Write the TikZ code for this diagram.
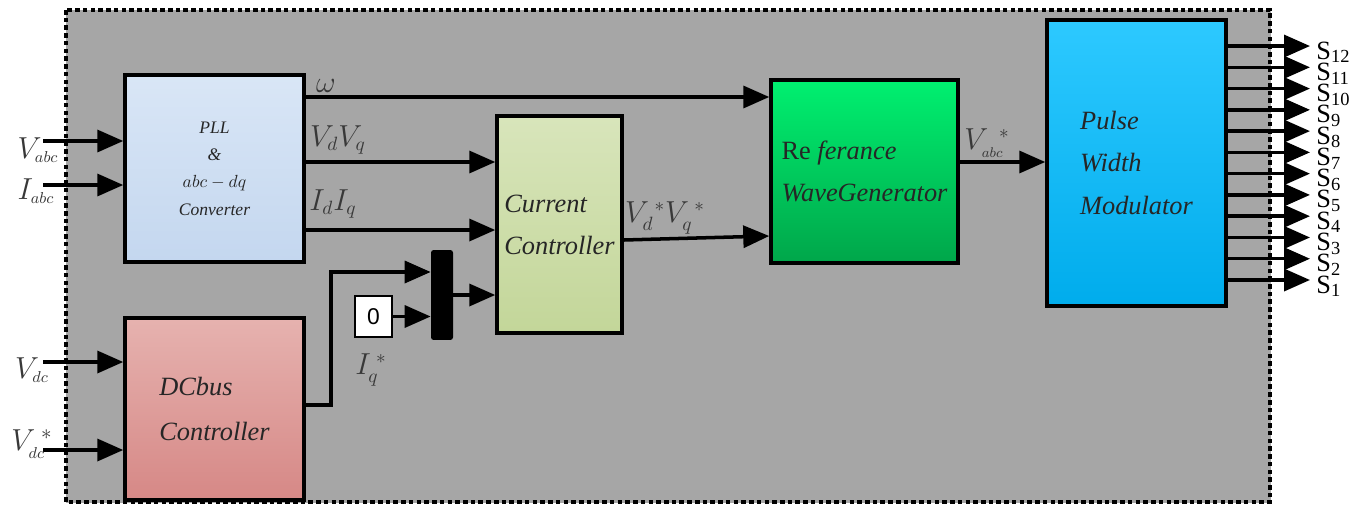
\documentclass[tikz,border=0pt]{standalone}
\usepackage{fontspec}
\setmainfont{Liberation Serif}
\setsansfont{Liberation Sans}
\usetikzlibrary{arrows.meta}

\definecolor{panel}{HTML}{A6A6A6}
\definecolor{pllTop}{HTML}{D9E6F6}
\definecolor{pllBot}{HTML}{C4D7EF}
\definecolor{dcTop}{HTML}{E6B2AF}
\definecolor{dcBot}{HTML}{D68886}
\definecolor{ccTop}{HTML}{D8E5BB}
\definecolor{ccBot}{HTML}{C3D699}
\definecolor{refTop}{HTML}{00F070}
\definecolor{refBot}{HTML}{00A64A}
\definecolor{pwmTop}{HTML}{2DC9FF}
\definecolor{pwmBot}{HTML}{00ACEC}
\definecolor{labtext}{HTML}{383838}

\tikzset{
  block/.style={draw, line width=2pt, inner sep=0pt, align=left, text=black!85,
    font=\fontsize{15}{24}\selectfont\itshape},
  sig/.style={line width=2pt, -{Triangle[length=0.52cm,width=0.44cm]}},
  lab/.style={text=labtext, inner sep=0pt, font=\fontsize{16}{16}\selectfont},
}

\begin{document}
\begin{tikzpicture}[x=0.02cm,y=-0.02cm]
   \useasboundingbox (0,0) rectangle (1364,504);
   % control panel
   \draw[panel, fill=panel] (66,10) rectangle (1270,502);
   \draw[line width=2pt, dash pattern=on 2.6pt off 1.8pt] (66,10) rectangle (1270,502);

   % blocks
   \node[block, align=center, top color=pllTop, bottom color=pllBot,
     minimum width=3.58cm, minimum height=3.74cm,
     font=\fontsize{10}{15.5}\selectfont\itshape] (pll) at (214.5,168.5)
     {PLL\\\&\\$abc-dq$\\Converter};
   \node[block, top color=dcTop, bottom color=dcBot,
     minimum width=3.58cm, minimum height=3.64cm,
     font=\fontsize{15}{26}\selectfont\itshape] (dc) at (214.5,409) {DCbus\\Controller};
   \node[block, top color=ccTop, bottom color=ccBot,
     minimum width=2.5cm, minimum height=4.34cm] (cc) at (559.5,224.5) {Current\\Controller};
   \node[block, top color=refTop, bottom color=refBot,
     minimum width=3.74cm, minimum height=3.66cm] (ref) at (864.5,171.5)
     {{\upshape Re} ferance\\WaveGenerator};
   \node[block, top color=pwmTop, bottom color=pwmBot,
     minimum width=3.58cm, minimum height=5.72cm] (pwm) at (1136.5,163)
     {Pulse\\Width\\Modulator};
   \node[fill=black, rounded corners=1.5pt, minimum width=0.44cm, minimum height=1.8cm,
     inner sep=0pt] (mux) at (442,295) {};
   \node[draw, fill=white, line width=1.4pt, minimum width=0.74cm, minimum height=0.82cm,
     inner sep=0pt, font=\sffamily\fontsize{13}{13}\selectfont] (zero) at (373.5,316.5) {0};

   % inputs
   \coordinate (vabc) at (43,141);
   \coordinate (iabc) at (43,185);
   \coordinate (vdc) at (43,362);
   \coordinate (vdcref) at (43,450);
   \draw[sig] (vabc) -- (pll.west |- vabc);
   \draw[sig] (iabc) -- (pll.west |- iabc);
   \draw[sig] (vdc) -- (dc.west |- vdc);
   \draw[sig] (vdcref) -- (dc.west |- vdcref);
   \node[lab, font=\fontsize{18}{18}\selectfont] (vabc-lab) at (38,150) {$V_{\scriptscriptstyle abc}$};
   \node[lab, font=\fontsize{18}{18}\selectfont] (iabc-lab) at (36,191) {$I_{\scriptscriptstyle abc}$};
   \node[lab, font=\fontsize{18}{18}\selectfont] (vdc-lab) at (32,370) {$V_{\scriptscriptstyle dc}$};
   \node[lab, font=\fontsize{18}{18}\selectfont] (vdcref-lab) at (32,444) {$V_{\scriptscriptstyle dc}^{\;*}$};

   % signals between blocks
   \draw[sig] (pll.east |- 0,97) -- (ref.west |- 0,97);
   \draw[sig] (pll.east |- 0,162) -- (cc.west |- 0,162);
   \draw[sig] (pll.east |- 0,230) -- (cc.west |- 0,230);
   \coordinate (iq-bend) at (331,272);
   \draw[sig] (dc.east |- 0,405) -| (iq-bend) -- (mux.west |- iq-bend);
   \draw[sig] (zero) -- (mux.west |- zero);
   \draw[sig] (mux) -- (cc.west |- mux);
   \draw[sig] (cc.east |- 0,240) -- (ref.west |- 0,236);
   \draw[sig] (ref.east |- 0,162) -- (pwm.west |- 0,162);

   \node[lab] (w-lab) at (326,86) {$\omega$};
   \node[lab] (vdq-lab) at (338,140) {$V_dV_q$};
   \node[lab] (idq-lab) at (333,204) {$I_dI_q$};
   \node[lab] (iq-lab) at (371,370) {$I_q^{\;*}$};
   \node[lab] (vdqref-lab) at (665,218) {$V_d^{\;*}V_q^{\;*}$};
   \node[lab] (vabcref-lab) at (987,143) {$V_{\scriptscriptstyle abc}^{\;\;*}$};

   % switching pulses
   \foreach \i [evaluate=\i as \y using 280-(\i-1)*21.27] in {1,...,12} {
     \coordinate (s\i) at (1310,\y);
     \draw[sig] (pwm.east |- s\i) -- (s\i);
     \node[anchor=base west, inner sep=0pt, font=\fontsize{15}{15}\selectfont]
       (s\i-lab) at (1316,\y+13) {S\textsubscript{\i}};
   }
\end{tikzpicture}
\end{document}
